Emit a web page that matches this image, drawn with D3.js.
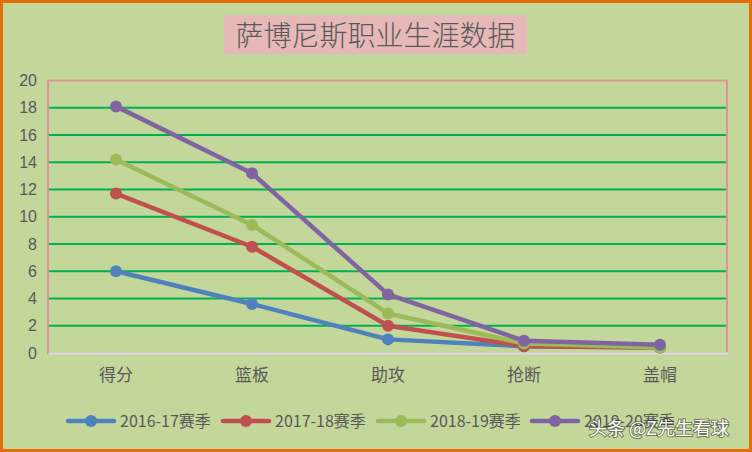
<!DOCTYPE html>
<html><head><meta charset="utf-8">
<script src="https://cdn.jsdelivr.net/npm/d3@7/dist/d3.min.js"></script>
<style>
html,body{margin:0;padding:0;background:#c4d79b;}
svg{display:block;}
text{font-family:"Liberation Sans Narrow","Noto Sans CJK SC",sans-serif;fill:#595959;}
</style></head>
<body><svg id="c" width="752" height="452"></svg>
<script>
const title = "萨博尼斯职业生涯数据";
const categories = ["得分","篮板","助攻","抢断","盖帽"];
const seriesNames = ["2016-17赛季","2017-18赛季","2018-19赛季","2019-20赛季"];
const s2016 = [6.0, 3.6, 1.0, 0.5, 0.4];
const s2017 = [11.7, 7.8, 2.0, 0.5, 0.4];
const s2018 = [14.2, 9.4, 2.9, 0.7, 0.4];
const s2019 = [18.1, 13.2, 4.3, 0.9, 0.6];
const yTicks = [0,2,4,6,8,10,12,14,16,18,20];
const colors = ["#4f81bd","#c0504d","#9bbb59","#8064a2"];
const seriesValues = [s2016, s2017, s2018, s2019];

const svg = d3.select("#c");
const W = 752, H = 452;
svg.append("rect").attr("x",1.5).attr("y",1.5).attr("width",W-3).attr("height",H-3)
  .attr("fill","#c4d79b").attr("stroke","#e36c09").attr("stroke-width",3);

// title
const tg = svg.append("g");
tg.append("rect").attr("x",224).attr("y",15).attr("width",303).attr("height",39).attr("fill","#e6b8b7");
tg.append("text").attr("x",375.5).attr("y",46).attr("text-anchor","middle")
  .style("font-family","'Noto Sans CJK SC',sans-serif").style("font-size","28px")
  .style("font-weight","300").text(title);

const L = 48, R = 728, T = 80.5, B = 353;
const x = d3.scaleBand().domain(categories).range([L,R]);
const y = d3.scaleLinear().domain([0,20]).range([B,T]);

// plot border
svg.append("rect").attr("x",L).attr("y",T).attr("width",R-L-1).attr("height",B-T)
  .attr("fill","none").attr("stroke","#da9694").attr("stroke-width",2);

// gridlines
svg.append("g").selectAll("line").data(yTicks.filter(d=>d>0 && d<20)).join("line")
  .attr("x1",L+1).attr("x2",R-2).attr("y1",d=>y(d)).attr("y2",d=>y(d))
  .attr("stroke","#00b050").attr("stroke-width",2);

// y axis
const ya = svg.append("g").attr("transform",`translate(${L},0)`)
  .call(d3.axisLeft(y).tickValues(yTicks).tickSize(0).tickPadding(11));
ya.select(".domain").remove();
ya.selectAll("text").style("font-size","16px").attr("fill","#595959")
  .style("font-family","'Liberation Sans Narrow',sans-serif");

// x axis
const xa = svg.append("g").attr("transform",`translate(0,${B})`)
  .call(d3.axisBottom(x).tickSize(0).tickPadding(16));
xa.select(".domain").attr("stroke","#d9d9d9").attr("stroke-width",2.5);
xa.selectAll("text").style("font-size","17px").attr("fill","#595959")
  .style("font-family","'Noto Sans CJK SC',sans-serif");

const cx = c => x(c) + x.bandwidth()/2;
const line = d3.line().x((d,i)=>cx(categories[i])).y(d=>y(d));

seriesValues.forEach((vals,k)=>{
  const g = svg.append("g");
  g.append("path").datum(vals).attr("d",line).attr("fill","none")
    .attr("stroke",colors[k]).attr("stroke-width",4.5).attr("stroke-linejoin","round");
  g.selectAll("circle").data(vals).join("circle")
    .attr("cx",(d,i)=>cx(categories[i])).attr("cy",d=>y(d)).attr("r",6)
    .attr("fill",colors[k]);
});

// legend
const legX = [68, 223, 378, 532];
const lg = svg.append("g");
seriesNames.forEach((n,k)=>{
  const g = lg.append("g").attr("transform",`translate(${legX[k]},421)`);
  g.append("line").attr("x1",0).attr("x2",46).attr("y1",0).attr("y2",0)
    .attr("stroke",colors[k]).attr("stroke-width",4.5).attr("stroke-linecap","round");
  g.append("circle").attr("cx",23).attr("cy",0).attr("r",6).attr("fill",colors[k]);
  g.append("text").attr("x",52).attr("y",6).style("font-size","16px").text(n);
});

// watermark
svg.append("text").attr("x",589).attr("y",435)
  .style("font-family","'Noto Sans CJK SC',sans-serif").style("font-size","18px")
  .attr("fill","#ffffff").style("fill","#ffffff")
  .style("paint-order","stroke").attr("stroke","rgba(0,0,0,0.45)").attr("stroke-width",2)
  .text("头条 @Z先生看球");
</script></body></html>
